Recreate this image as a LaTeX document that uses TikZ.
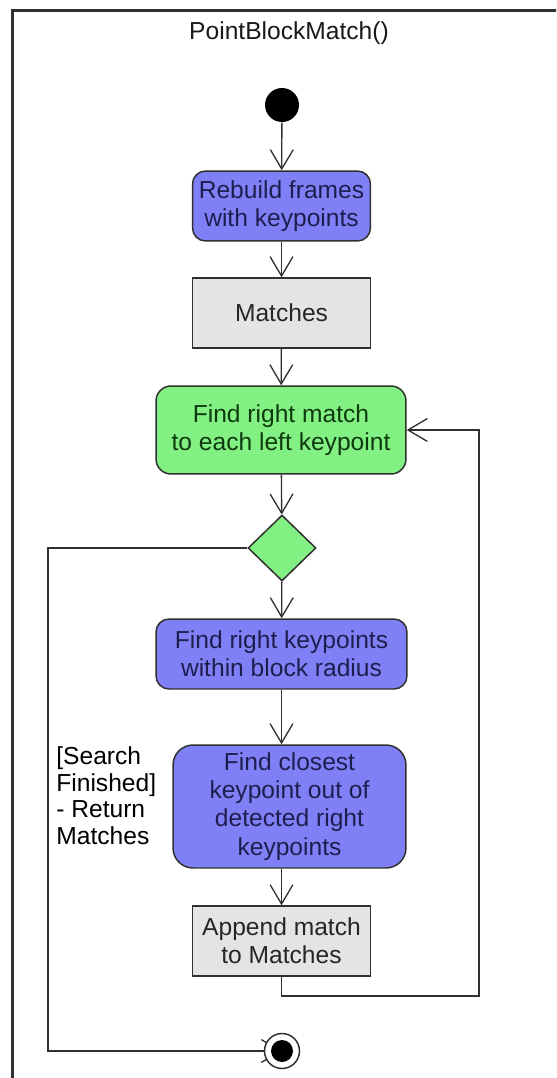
\documentclass[tikz,border=0pt]{standalone}
\usepackage{fontspec}
\setmainfont{Liberation Sans}
\usetikzlibrary{arrows.meta,shapes.geometric,backgrounds}

\definecolor{bleu}{HTML}{8080F6}
\definecolor{vert}{HTML}{82F082}
\definecolor{gris}{HTML}{E4E4E4}
\definecolor{trait}{HTML}{303030}
\definecolor{encre}{HTML}{1E1E4E}
\definecolor{encrevert}{HTML}{0E3A0E}

\tikzset{
  etape/.style={draw=trait, line width=0.85pt, align=center, inner sep=0pt,
    font=\fontsize{14}{16}\selectfont},
  actbleu/.style={etape, fill=bleu, text=encre, rounded corners=0.26cm},
  actvert/.style={etape, fill=vert, text=encrevert, rounded corners=0.3cm},
  objet/.style={etape, fill=gris, text=black!85},
  fleche/.style={->, draw=trait, line width=0.75pt},
}

\begin{document}
\begin{tikzpicture}[x=0.02cm, y=-0.02cm, >={Straight Barb[length=11pt,width=13pt]}]
\useasboundingbox (0,0) rectangle (556,1078);
\clip (0,0) rectangle (556,1078);

% Cadre
\draw[line width=1.2pt, trait] (12.5,10.5) rectangle (620,1120);
\node[font=\fontsize{14}{16}\selectfont, text=black!90] (titre) at (289,33) {PointBlockMatch()};

% Début
\node[circle, fill=black, minimum size=0.68cm, inner sep=0pt] (debut) at (282,105) {};

% Actions
\node[actbleu, minimum width=3.56cm, minimum height=1.4cm] (rebuild) at (281.5,206) {Rebuild frames\\with keypoints};
\node[objet, minimum width=3.56cm, minimum height=1.4cm] (matches) at (281.5,313) {Matches};
\node[actvert, minimum width=5cm, minimum height=1.76cm] (findmatch) at (281,430) {Find right match\\to each left keypoint};

% Décision
\node[diamond, draw=trait, line width=0.85pt, fill=vert, minimum width=1.36cm, minimum height=1.32cm, inner sep=0pt] (choix) at (282,548) {};

\node[actbleu, minimum width=5.02cm, minimum height=1.4cm] (findkp) at (281.5,654) {Find right keypoints\\within block radius};
\node[actbleu, minimum width=4.66cm, minimum height=2.46cm, rounded corners=0.4cm] (closest) at (289.5,806.5) {Find closest\\keypoint out of\\detected right\\keypoints};
\node[objet, minimum width=3.56cm, minimum height=1.4cm] (append) at (281.5,941) {Append match\\to Matches};

% Fin
\node[circle, draw=trait, line width=0.85pt, fill=white, minimum size=0.7cm, inner sep=0pt,
  path picture={\fill[black] (path picture bounding box.center) circle (0.22cm);}] (fin) at (282,1051) {};

% Garde
\node[anchor=north west, align=left, inner sep=0pt, font=\fontsize{14}{15.3}\selectfont] (garde) at (56,746) {[Search\\Finished]\\- Return\\Matches};

% Flux
\draw[fleche] (debut) -- (rebuild);
\draw[fleche] (rebuild) -- (matches);
\draw[fleche] (matches) -- (findmatch);
\draw[fleche] (findmatch) -- (choix);
\draw[fleche] (choix) -- (findkp);
\draw[fleche] (findkp.south) -- (findkp.south |- closest.north);
\draw[fleche] (append.north |- closest.south) -- (append.north);

% Boucle
\coordinate (boucle) at (479,996);
\draw[fleche] (append.south) |- (boucle) |- (findmatch.east);

% Retour
\coordinate (retour) at (48,1051);
\begin{pgfonlayer}{background}
\draw[fleche] (choix.west) -| (retour) -- (fin.center);
\end{pgfonlayer}

\end{tikzpicture}
\end{document}
